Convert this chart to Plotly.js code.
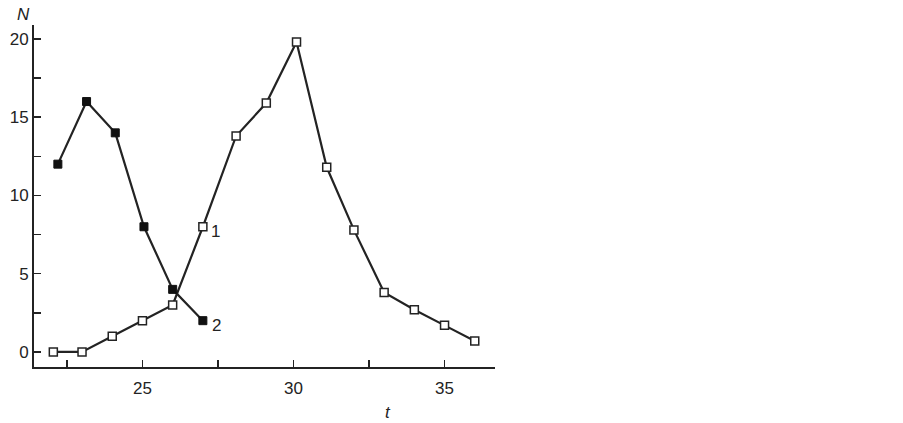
<!DOCTYPE html>
<html>
<head>
<meta charset="utf-8">
<script src="https://cdn.plot.ly/plotly-3.0.1.min.js"></script>
<style>
  html, body { margin: 0; padding: 0; background: #fff; }
  #chart { width: 903px; height: 423px; }
</style>
</head>
<body>
<div id="chart"></div>
<script>
// curve 1 (open squares)
var t1 = [22.05, 23, 24, 25, 26, 27, 28.1, 29.1, 30.1, 31.1, 32, 33, 34, 35, 36];
var n1 = [0, 0, 1, 2, 3, 8, 13.8, 15.9, 19.8, 11.8, 7.8, 3.8, 2.7, 1.7, 0.7];
// curve 2 (filled squares)
var t2 = [22.2, 23.15, 24.1, 25.05, 26, 27];
var n2 = [12, 16, 14, 8, 4, 2];

var xTicks = [22.5, 25, 27.5, 30, 32.5, 35];
var xTickText = ["", "25", "", "30", "", "35"];
var yTicks = [0, 2.5, 5, 7.5, 10, 12.5, 15, 17.5, 20];
var yTickText = ["0", "", "5", "", "10", "", "15", "", "20"];

var ink = "#232323";
var fam = "Liberation Sans, Arial, sans-serif";

var curve1 = {
  x: t1, y: n1, type: "scatter", mode: "lines+markers", name: "1",
  line: {color: ink, width: 2.2},
  marker: {symbol: "square", size: 8, color: "#fff", line: {color: ink, width: 1.5}}
};
var curve2 = {
  x: t2, y: n2, type: "scatter", mode: "lines+markers", name: "2",
  line: {color: ink, width: 2.2},
  marker: {symbol: "square", size: 8, color: "#111", line: {color: "#111", width: 1}}
};

var axisCommon = {
  showgrid: false, zeroline: false, showline: true,
  linecolor: ink, linewidth: 2,
  ticks: "inside", ticklen: 7, tickwidth: 1.5, tickcolor: ink,
  tickmode: "array",
  tickfont: {family: fam, size: 17, color: ink}
};

var layout = {
  width: 903, height: 423,
  margin: {l: 34, r: 408, t: 25, b: 56},
  paper_bgcolor: "#fff", plot_bgcolor: "#fff",
  showlegend: false,
  xaxis: Object.assign({}, axisCommon, {
    range: [21.41, 36.67], tickvals: xTicks, ticktext: xTickText,
    ticklabelstandoff: 5
  }),
  yaxis: Object.assign({}, axisCommon, {
    range: [-0.96, 20.89], tickvals: yTicks, ticktext: yTickText
  }),
  annotations: [
    {text: "<i>N</i>", xref: "paper", yref: "paper", x: -0.022, y: 1.03,
     xanchor: "center", yanchor: "middle",
     showarrow: false, font: {family: fam, size: 17, color: ink}},
    {text: "<i>t</i>", xref: "paper", yref: "paper", x: 0.768, y: -0.132,
     xanchor: "center", yanchor: "middle",
     showarrow: false, font: {family: fam, size: 17, color: ink}},
    {text: "1", x: 27.2, y: 7.7, xanchor: "left", showarrow: false,
     font: {family: fam, size: 17, color: ink}},
    {text: "2", x: 27.25, y: 1.7, xanchor: "left", showarrow: false,
     font: {family: fam, size: 17, color: ink}}
  ]
};

Plotly.newPlot("chart", [curve1, curve2], layout, {displayModeBar: false, staticPlot: true});
</script>
</body>
</html>
